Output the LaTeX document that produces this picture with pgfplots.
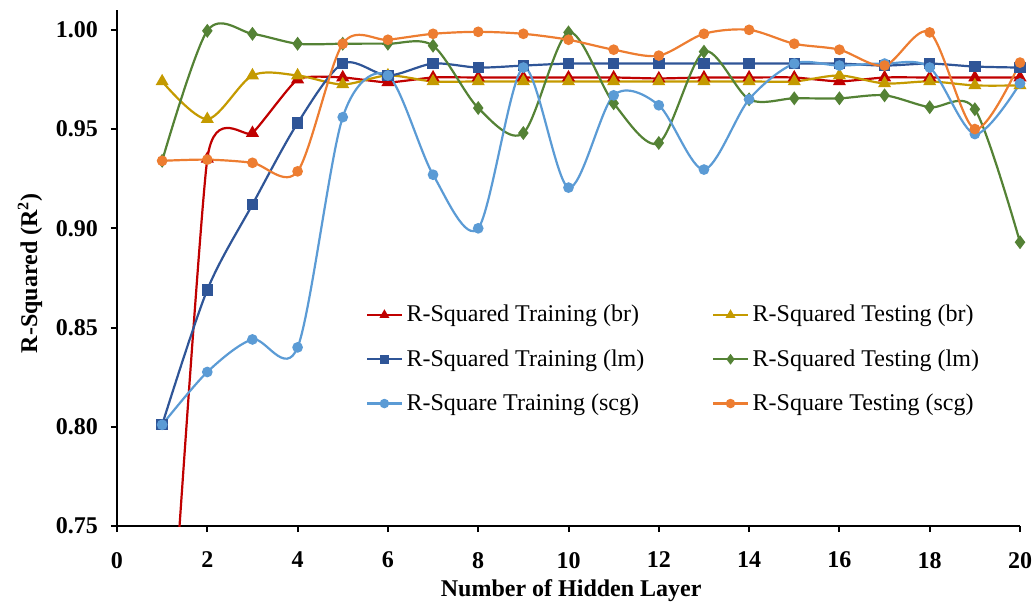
\documentclass[border=0pt]{standalone}
\usepackage{fontspec}
\setmainfont{Liberation Serif}
\usepackage{pgfplots}
\pgfplotsset{compat=1.18}
\definecolor{cred}{HTML}{C00000}
\definecolor{cgold}{HTML}{C49A00}
\definecolor{cblue}{HTML}{2F5597}
\definecolor{cgreen}{HTML}{548235}
\definecolor{clblue}{HTML}{5B9BD5}
\definecolor{corange}{HTML}{ED7D31}
\begin{document}
\begin{tikzpicture}
\begin{axis}[
  scale only axis, width=451.5pt, height=258pt,
  xmin=0, xmax=20, ymin=0.75, ymax=1.01,
  axis x line=bottom, axis y line=left,
  axis line style={-, line width=1pt, black},
  xtick={0,2,4,6,8,10,12,14,16,18,20},
  ytick={0.75,0.8,0.85,0.9,0.95,1},
  tick align=outside, major tick length=3pt,
  tick style={line width=1pt, black},
  /pgf/number format/assume math mode=true,
  tick label style={font=\bfseries\fontsize{12}{14}\selectfont},
  yticklabel style={/pgf/number format/.cd, fixed, fixed zerofill, precision=2, /tikz/.cd, xshift=-3pt},
  xticklabel style={yshift=-6.5pt},
  xlabel={Number of Hidden Layer},
  ylabel={R-Squared (R\textsuperscript{2})},
  xlabel style={at={(axis description cs:0.503,-0.126)}, anchor=center, font=\bfseries\fontsize{12}{14}\selectfont},
  ylabel style={at={(axis description cs:-0.0963,0.49)}, anchor=center, font=\bfseries\fontsize{12}{14}\selectfont},
  legend style={draw=none, fill=none, at={(axis cs:12.35,0.834)}, anchor=center,
    font=\fontsize{12}{14}\selectfont, row sep=8.3pt,
    /tikz/every even column/.append style={column sep=32pt}},
  legend columns=2, legend cell align=left,
  legend image post style={mark size=1.8pt},
  every axis plot/.append style={line width=1.1pt, smooth, mark options={solid}},
]
\addplot[color=cred, mark=triangle*, mark size=2.7pt, tension=0.3] coordinates {
(1,0.62) (2,0.935) (3,0.948) (4,0.975) (5,0.976) (6,0.9735) (7,0.976) (8,0.976) (9,0.976) (10,0.976)
(11,0.976) (12,0.9755) (13,0.976) (14,0.976) (15,0.976) (16,0.974) (17,0.976) (18,0.976) (19,0.976) (20,0.976)};
\addlegendentry{R-Squared Training (br)}
\addplot[color=cgold, mark=triangle*, mark size=2.7pt] coordinates {
(1,0.974) (2,0.955) (3,0.977) (4,0.977) (5,0.9725) (6,0.977) (7,0.974) (8,0.974) (9,0.974) (10,0.974)
(11,0.974) (12,0.974) (13,0.974) (14,0.974) (15,0.974) (16,0.977) (17,0.973) (18,0.974) (19,0.972) (20,0.972)};
\addlegendentry{R-Squared Testing (br)}
\addplot[color=cblue, mark=square*, mark size=2.3pt] coordinates {
(1,0.801) (2,0.869) (3,0.912) (4,0.953) (5,0.983) (6,0.977) (7,0.983) (8,0.981) (9,0.982) (10,0.983)
(11,0.983) (12,0.983) (13,0.983) (14,0.983) (15,0.983) (16,0.983) (17,0.982) (18,0.983) (19,0.9815) (20,0.981)};
\addlegendentry{R-Squared Training (lm)}
\addplot[color=cgreen, mark=diamond*, mark size=2.6pt] coordinates {
(1,0.934) (2,0.9995) (3,0.998) (4,0.993) (5,0.993) (6,0.993) (7,0.992) (8,0.9606) (9,0.948) (10,0.9987)
(11,0.963) (12,0.943) (13,0.989) (14,0.965) (15,0.9655) (16,0.9655) (17,0.967) (18,0.961) (19,0.960) (20,0.893)};
\addlegendentry{R-Squared Testing (lm)}
\addplot[color=clblue, mark=*, mark size=2.1pt] coordinates {
(1,0.801) (2,0.8276) (3,0.844) (4,0.840) (5,0.956) (6,0.977) (7,0.927) (8,0.900) (9,0.981) (10,0.9205)
(11,0.967) (12,0.962) (13,0.9296) (14,0.965) (15,0.983) (16,0.982) (17,0.983) (18,0.981) (19,0.9475) (20,0.973)};
\addlegendentry{R-Square Training (scg)}
\addplot[color=corange, mark=*, mark size=2.1pt] coordinates {
(1,0.934) (2,0.9346) (3,0.933) (4,0.9287) (5,0.993) (6,0.995) (7,0.998) (8,0.999) (9,0.998) (10,0.995)
(11,0.990) (12,0.987) (13,0.998) (14,1.000) (15,0.993) (16,0.990) (17,0.982) (18,0.9987) (19,0.950) (20,0.9835)};
\addlegendentry{R-Square Testing (scg)}
\coordinate (bbll) at (rel axis cs:0,0);
\end{axis}
\pgfresetboundingbox
\path (bbll) ++(-58.5pt,-39.5pt) rectangle ++(518pt,302.5pt);
\end{tikzpicture}
\end{document}
